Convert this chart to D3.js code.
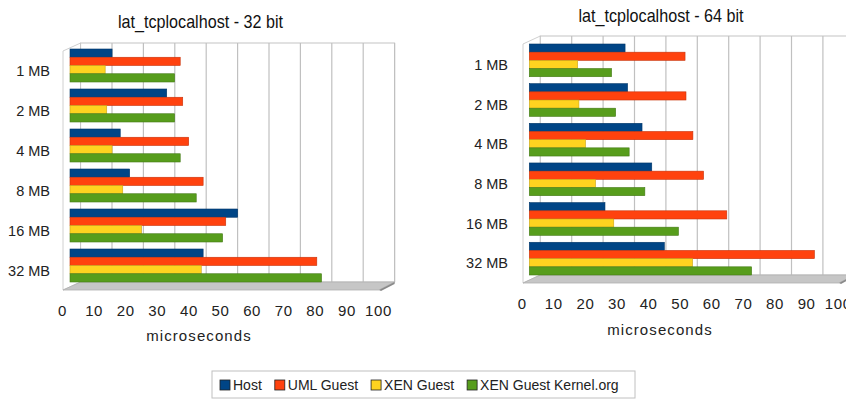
<!DOCTYPE html>
<html><head><meta charset="utf-8">
<script src="https://cdn.jsdelivr.net/npm/d3@7"></script>
<style>
html,body{margin:0;padding:0;background:#fff;}
svg{display:block;font-family:"Liberation Sans",Arial,sans-serif;}
</style></head>
<body>
<svg id="chart" width="846" height="400"></svg>
<script>
// ---- data ----
const categories = ["1 MB", "2 MB", "4 MB", "8 MB", "16 MB", "32 MB"];
const seriesNames = ["Host", "UML Guest", "XEN Guest", "XEN Guest Kernel.org"];
const seriesColors = ["#004586", "#ff420e", "#ffd320", "#579d1c"];
const tickValues = [0, 10, 20, 30, 40, 50, 60, 70, 80, 90, 100];
const axisTitle = "microseconds";
const title32 = "lat_tcplocalhost - 32 bit";
const title64 = "lat_tcplocalhost - 64 bit";

const host32   = [13.4, 30.8, 16.0, 19.0, 53.4, 42.4];
const uml32    = [35.1, 35.9, 37.8, 42.4, 49.6, 78.6];
const xen32    = [11.2, 11.7, 13.4, 16.8, 22.8, 41.8];
const kernel32 = [33.3, 33.3, 35.1, 40.2, 48.6, 80.1];

const host64   = [30.5, 31.3, 35.9, 39.0, 24.1, 43.0];
const uml64    = [49.6, 49.9, 52.1, 55.5, 62.9, 90.8];
const xen64    = [15.4, 15.8, 17.9, 21.1, 26.9, 52.0];
const kernel64 = [26.2, 27.5, 31.8, 36.8, 47.5, 70.8];

// ---- drawing ----
const svg = d3.select("#chart");

function drawChart(cfg, seriesData, title) {
  const g = svg.append("g");
  const gridX = d3.scaleLinear().domain([0, 100]).range([cfg.backX0, cfg.backX0 + 314]);
  const barX = d3.scaleLinear().domain([0, 100]).range([cfg.barX0, cfg.barX0 + 314]);
  const frontX = d3.scaleLinear().domain([0, 100]).range([cfg.frontX0, cfg.frontX0 + 316]);
  const y = d3.scaleBand().domain(categories).range([cfg.barTop, cfg.barBottom])
    .paddingInner(0.175).paddingOuter(0);
  const ySub = d3.scaleBand().domain(d3.range(seriesNames.length)).range([0, y.bandwidth()]);
  const depthY = cfg.wallBottom + 8;

  // title
  g.append("text").attr("x", cfg.titleX).attr("y", cfg.titleY)
    .attr("text-anchor", "middle").attr("font-size", 19)
    .attr("textLength", 165).attr("lengthAdjust", "spacingAndGlyphs")
    .attr("fill", "#111").text(title);

  // left wall
  g.append("path")
    .attr("d", `M${frontX(0)},${cfg.wallTop + 8}L${gridX(0)},${cfg.wallTop}L${gridX(0)},${cfg.wallBottom}L${frontX(0)},${depthY}Z`)
    .attr("fill", "#fff").attr("stroke", "#d0d0d0").attr("stroke-width", 1);

  // back wall
  g.append("rect").attr("x", gridX(0)).attr("y", cfg.wallTop)
    .attr("width", gridX(100) - gridX(0)).attr("height", cfg.wallBottom - cfg.wallTop)
    .attr("fill", "#fff").attr("stroke", "#c4c4c4").attr("stroke-width", 1);

  // gridlines
  g.append("g").selectAll("line").data(tickValues.slice(1)).join("line")
    .attr("x1", d => gridX(d)).attr("x2", d => gridX(d))
    .attr("y1", cfg.wallTop).attr("y2", cfg.wallBottom)
    .attr("stroke", "#c0c0c0").attr("stroke-width", 1.2);

  // floor
  g.append("path")
    .attr("d", `M${frontX(0)},${depthY}L${frontX(100)},${depthY}L${gridX(100)},${cfg.wallBottom}L${gridX(0)},${cfg.wallBottom}Z`)
    .attr("fill", "#c6c6c6").attr("stroke", "#b0b0b0").attr("stroke-width", 0.8);
  g.append("path")
    .attr("d", `M${frontX(100)},${depthY}L${gridX(100)},${cfg.wallBottom}L${gridX(100)},${cfg.wallBottom + 2}L${frontX(100) + 2},${depthY + 1}Z`)
    .attr("fill", "#8a8a8a");

  // bars
  seriesData.forEach((vals, si) => {
    const col = seriesColors[si];
    g.append("g").selectAll("rect").data(vals).join("rect")
      .attr("x", barX(0))
      .attr("y", (d, i) => y(categories[i]) + ySub(si))
      .attr("width", d => barX(d) - barX(0))
      .attr("height", ySub.bandwidth())
      .attr("fill", col)
      .attr("stroke", d3.color(col).darker(0.7))
      .attr("stroke-width", 0.6);
  });

  // category labels
  const yAxis = g.append("g")
    .attr("transform", `translate(${cfg.labelX},${cfg.labelDy})`)
    .call(d3.axisLeft(y).tickSize(0).tickPadding(0));
  yAxis.select(".domain").remove();
  yAxis.selectAll("text").attr("font-size", 14.5).attr("fill", "#222")
    .attr("font-family", "Liberation Sans, Arial, sans-serif");

  // value tick labels
  const xAxis = g.append("g")
    .attr("transform", `translate(0,${cfg.tickY})`)
    .call(d3.axisBottom(d3.scaleLinear().domain([0, 100]).range([cfg.tickX0, cfg.tickX0 + 316]))
      .tickValues(tickValues).tickSize(0).tickPadding(0));
  xAxis.select(".domain").remove();
  xAxis.selectAll("text").attr("font-size", 15).attr("fill", "#222")
    .attr("letter-spacing", 0.6)
    .attr("font-family", "Liberation Sans, Arial, sans-serif");

  // axis title
  g.append("text").attr("x", cfg.axisTitleX).attr("y", cfg.axisTitleY)
    .attr("text-anchor", "middle").attr("font-size", 15).attr("letter-spacing", 1.1)
    .attr("fill", "#222").text(axisTitle);
}

drawChart({
  backX0: 80.6, barX0: 70, frontX0: 63, tickX0: 62,
  wallTop: 43, wallBottom: 282, barTop: 49, barBottom: 282,
  labelX: 50, labelDy: 6, tickY: 305, axisTitleX: 199, axisTitleY: 341,
  titleX: 200.5, titleY: 28
}, [host32, uml32, xen32, kernel32], title32);

drawChart({
  backX0: 540.3, barX0: 529.3, frontX0: 523, tickX0: 521.7,
  wallTop: 36, wallBottom: 275, barTop: 44, barBottom: 275,
  labelX: 508, labelDy: 5, tickY: 298, axisTitleX: 660, axisTitleY: 335,
  titleX: 661, titleY: 22
}, [host64, uml64, xen64, kernel64], title64);

// ---- legend ----
const legend = svg.append("g");
const legendBox = legend.append("rect").attr("x", 212).attr("y", 371)
  .attr("width", 423).attr("height", 27)
  .attr("fill", "#fff").attr("stroke", "#c0c0c0").attr("stroke-width", 1);
let lx = 220;
seriesNames.forEach((name, i) => {
  const item = legend.append("g").attr("transform", `translate(${lx},380)`);
  item.append("rect").attr("width", 10).attr("height", 10)
    .attr("fill", seriesColors[i]).attr("stroke", "#222").attr("stroke-width", 0.8);
  const t = item.append("text").attr("x", 13).attr("y", 10)
    .attr("font-size", 14).attr("fill", "#222").text(name);
  lx += 13 + t.node().getComputedTextLength() + 13;
});
</script>
</body></html>
